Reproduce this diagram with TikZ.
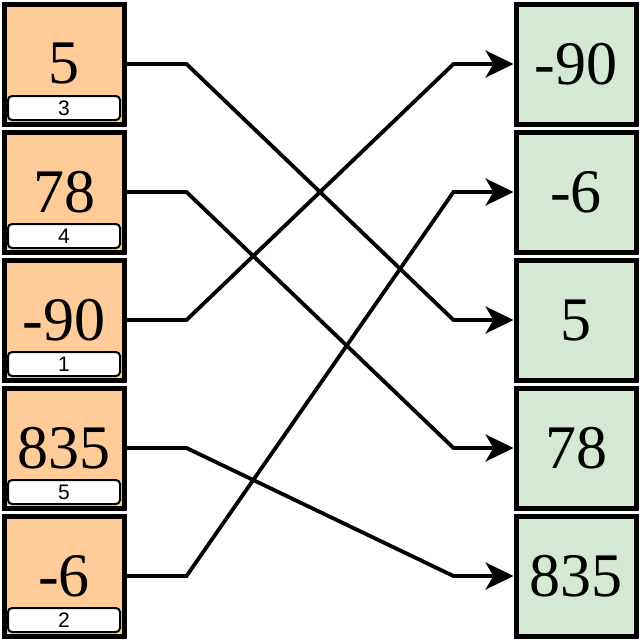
\documentclass[tikz,border=0pt]{standalone}
\usepackage{fontspec}
\setmainfont{Liberation Serif}
\newfontfamily\lblfont{Liberation Sans}
\usetikzlibrary{arrows.meta}
\definecolor{srcfill}{HTML}{FFCC99}
\definecolor{dstfill}{HTML}{D5E8D4}
\newcommand{\lbl}[1]{{\lblfont\fontsize{21pt}{21pt}\selectfont #1}}
\begin{document}
\begin{tikzpicture}[x=1pt,y=-1pt,
  srcbox/.style={draw=black,line width=5pt,fill=srcfill,minimum width=120pt,minimum height=120pt,inner sep=0pt},
  dstbox/.style={draw=black,line width=5pt,fill=dstfill,minimum width=120pt,minimum height=120pt,inner sep=0pt,
    font=\fontsize{62}{62}\selectfont},
  num/.style={font=\fontsize{62}{62}\selectfont,inner sep=0pt},
  idx/.style={draw=black,line width=2pt,fill=white,rounded corners=4pt,minimum width=112pt,minimum height=24pt,inner sep=0pt},
  link/.style={draw=black,line width=3.8pt,-{Stealth[length=28pt,width=27pt,inset=8pt]}}]
\useasboundingbox (0,0) rectangle (640,640);
% source boxes
\node[srcbox] (s1) at (64,64) {};
\node[srcbox] (s2) at (64,192) {};
\node[srcbox] (s3) at (64,320) {};
\node[srcbox] (s4) at (64,448) {};
\node[srcbox] (s5) at (64,576) {};
\node[num] (t1) at (64,64) {5};
\node[num] (t2) at (64,192) {78};
\node[num] (t3) at (64,320) {-90};
\node[num] (t4) at (64,448) {835};
\node[num] (t5) at (64,576) {-6};
\node[idx] (i1) at (64,108) {\lbl{3}};
\node[idx] (i2) at (64,236) {\lbl{4}};
\node[idx] (i3) at (64,364) {\lbl{1}};
\node[idx] (i4) at (64,492) {\lbl{5}};
\node[idx] (i5) at (64,620) {\lbl{2}};
% destination boxes
\node[dstbox] (d1) at (576,64) {-90};
\node[dstbox] (d2) at (576,192) {-6};
\node[dstbox] (d3) at (576,320) {5};
\node[dstbox] (d4) at (576,448) {78};
\node[dstbox] (d5) at (576,576) {835};
% connectors
\draw[link] (s1.east) -- ++(60,0) -- ([xshift=-60pt]d3.west) -- (d3.west);
\draw[link] (s2.east) -- ++(60,0) -- ([xshift=-60pt]d4.west) -- (d4.west);
\draw[link] (s3.east) -- ++(60,0) -- ([xshift=-60pt]d1.west) -- (d1.west);
\draw[link] (s4.east) -- ++(60,0) -- ([xshift=-60pt]d5.west) -- (d5.west);
\draw[link] (s5.east) -- ++(60,0) -- ([xshift=-60pt]d2.west) -- (d2.west);
\end{tikzpicture}
\end{document}
